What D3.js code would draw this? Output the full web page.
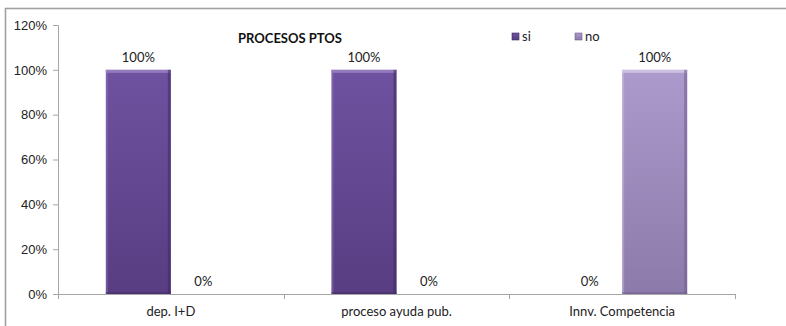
<!DOCTYPE html>
<html>
<head>
<meta charset="utf-8">
<script src="https://cdn.jsdelivr.net/npm/d3@7/dist/d3.min.js"></script>
<style>
  html, body { margin: 0; padding: 0; background: #fff; }
  svg { display: block; font-family: Lato, "Open Sans", sans-serif; }
</style>
</head>
<body>
<svg id="chart" width="786" height="326"></svg>
<script>
// Chart data
const categories = ["dep. I+D", "proceso ayuda pub.", "Innv. Competencia"];
const seriesNames = ["si", "no"];
const siValues = [1, 1, 0];
const noValues = [0, 0, 1];
const yTicks = [0, 0.2, 0.4, 0.6, 0.8, 1.0, 1.2];
const chartTitle = "PROCESOS PTOS";

const W = 786, H = 326;
const margin = { left: 58, right: 51, top: 25, bottom: 32 };
const svg = d3.select("#chart");

// Outer chart frame
svg.append("rect")
  .attr("x", 5.5).attr("y", 8.5)
  .attr("width", 800).attr("height", 400)
  .attr("fill", "none").attr("stroke", "#a0a0a0").attr("stroke-width", 1.6);

const x0 = d3.scaleBand()
  .domain(categories)
  .range([margin.left, W - margin.right])
  .paddingInner(0.424).paddingOuter(0.212);
const x1 = d3.scaleBand().domain(seriesNames).range([0, x0.bandwidth()]);
const y = d3.scaleLinear().domain([0, 1.2]).range([H - margin.bottom, margin.top]);

// Gradients for the two series
const defs = svg.append("defs");
const palette = {
  si: { top: "#6f52a0", bottom: "#583d82", hi: "#9d86c6", edge: "#3f2a62" },
  no: { top: "#ab9acb", bottom: "#8c7aab", hi: "#d6cbea", edge: "#6e5e8c" }
};
seriesNames.forEach(s => {
  const g = defs.append("linearGradient").attr("id", "grad-" + s)
    .attr("x1", 0).attr("y1", 0).attr("x2", 0).attr("y2", 1);
  g.append("stop").attr("offset", "0%").attr("stop-color", palette[s].top);
  g.append("stop").attr("offset", "100%").attr("stop-color", palette[s].bottom);
});

// Y axis
const yAxis = d3.axisLeft(y).tickValues(yTicks).tickFormat(d3.format(".0%")).tickSize(5).tickPadding(6);
const yG = svg.append("g").attr("transform", `translate(${margin.left},0)`).call(yAxis);
yG.select(".domain").attr("stroke", "#a6a6a6");
yG.selectAll(".tick line").attr("stroke", "#a6a6a6");
yG.selectAll("text").attr("fill", "#222").style("font-size", "13px");

// X axis with ticks at category boundaries
const step = x0.step();
const bounds = d3.range(categories.length + 1).map(i => margin.left + i * step);
const xG = svg.append("g");
xG.append("line")
  .attr("x1", margin.left).attr("x2", W - margin.right)
  .attr("y1", y(0) + 0.5).attr("y2", y(0) + 0.5)
  .attr("stroke", "#a6a6a6");
xG.selectAll("line.tk").data(bounds).join("line").attr("class", "tk")
  .attr("x1", d => Math.round(d) + 0.5).attr("x2", d => Math.round(d) + 0.5)
  .attr("y1", y(0)).attr("y2", y(0) + 5).attr("stroke", "#a6a6a6");
xG.selectAll("text").data(categories).join("text")
  .attr("x", d => x0(d) + x0.bandwidth() / 2)
  .attr("y", y(0) + 22)
  .attr("text-anchor", "middle").attr("fill", "#222").style("font-size", "13px")
  .text(d => d);

// Bars
const rows = categories.map((c, i) => ({ c, vals: [{ s: "si", v: siValues[i] }, { s: "no", v: noValues[i] }] }));
const groups = svg.append("g").selectAll("g").data(rows).join("g")
  .attr("transform", d => `translate(${x0(d.c)},0)`);

const bars = groups.selectAll("g.bar").data(d => d.vals).join("g").attr("class", "bar");
bars.filter(d => d.v > 0).each(function (d) {
  const g = d3.select(this);
  const bx = x1(d.s), bw = x1.bandwidth();
  const by = y(d.v), bh = y(0) - y(d.v);
  const p = palette[d.s];
  g.append("rect").attr("x", bx).attr("y", by).attr("width", bw).attr("height", bh)
    .attr("fill", `url(#grad-${d.s})`);
  // bevel: light top edge, dark right and bottom edges
  g.append("rect").attr("x", bx).attr("y", by).attr("width", bw).attr("height", 3)
    .attr("fill", p.hi).attr("opacity", 0.8);
  g.append("rect").attr("x", bx).attr("y", by).attr("width", 2).attr("height", bh)
    .attr("fill", p.hi).attr("opacity", 0.35);
  g.append("rect").attr("x", bx + bw - 3).attr("y", by).attr("width", 3).attr("height", bh)
    .attr("fill", p.edge).attr("opacity", 0.55);
  g.append("rect").attr("x", bx).attr("y", y(0) - 2).attr("width", bw).attr("height", 2)
    .attr("fill", p.edge).attr("opacity", 0.5);
});

// Value labels
bars.append("text")
  .attr("x", d => x1(d.s) + x1.bandwidth() / 2)
  .attr("y", d => y(d.v) - 8)
  .attr("text-anchor", "middle").attr("fill", "#222").style("font-size", "13px")
  .text(d => d3.format(".0%")(d.v));

// Title
svg.append("text").attr("x", 290).attr("y", 43)
  .attr("text-anchor", "middle").attr("font-weight", "bold")
  .attr("fill", "#111").style("font-size", "13px")
  .text(chartTitle);

// Legend
const legendX = [512, 575];
const legend = svg.append("g").selectAll("g").data(seriesNames).join("g")
  .attr("transform", (d, i) => `translate(${legendX[i]},33)`);
legend.append("rect").attr("width", 7).attr("height", 7)
  .attr("fill", d => `url(#grad-${d})`).attr("stroke", d => palette[d].edge).attr("stroke-width", 0.6);
legend.append("text").attr("x", 10).attr("y", 8)
  .attr("fill", "#222").style("font-size", "13px").text(d => d);
</script>
</body>
</html>
